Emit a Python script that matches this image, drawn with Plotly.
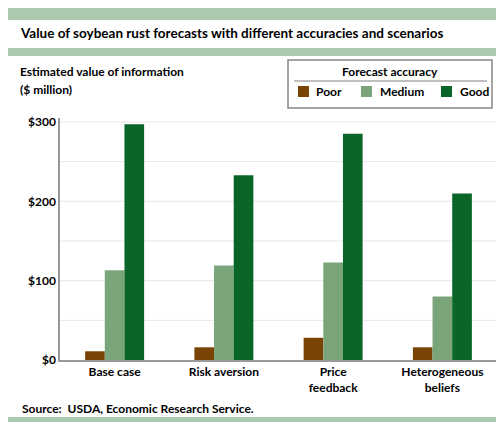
import plotly.graph_objects as go

scenarios = ["Base case", "Risk aversion", "Price<br>feedback", "Heterogeneous<br>beliefs"]
poor = [11, 16, 28, 16]
medium = [113, 119, 123, 80]
good = [297, 233, 285, 210]
y_ticks = [0, 100, 200, 300]
y_labels = ["$0", "$100", "$200", "$300"]

colors = {"Poor": "#7a4306", "Medium": "#7aa57b", "Good": "#0a6628"}
band = "#adc9b0"
font = "Lato"

fig = go.Figure()
for name, vals in [("Poor", poor), ("Medium", medium), ("Good", good)]:
    fig.add_trace(go.Bar(name=name, x=scenarios, y=vals,
                         marker_color=colors[name], marker_line_width=0))

fig.update_layout(
    width=504, height=422, barmode="group", bargap=0.46, bargroupgap=0,
    plot_bgcolor="white", paper_bgcolor="white",
    margin=dict(l=52, r=15, t=110, b=70, autoexpand=False),
    font=dict(family=font, size=12, color="black"),
    showlegend=False,
)
fig.update_xaxes(tickfont=dict(size=12), showline=True, linecolor="#999", linewidth=1.5,
                 tickprefix="<b>", ticksuffix="</b>")
fig.update_yaxes(range=[0, 305], tickvals=y_ticks, ticktext=["<b>%s</b>" % t for t in y_labels],
                 showgrid=False, showline=True, linecolor="#999", linewidth=1.5, ticks="")
for v in [50, 100, 150, 200, 250, 300]:
    fig.add_shape(type="line", xref="paper", yref="y", x0=0, x1=1, y0=v, y1=v,
                  line=dict(color="#e6e6e6", width=1), layer="below")


def py(pix):
    # pixel y from top -> paper coords
    return (352 - pix) / 242


def px_(pix):
    return (pix - 52) / 437


for top, bot in [(0, 12), (40, 48), (409, 418)]:
    fig.add_shape(type="rect", xref="paper", yref="paper", x0=px_(0), x1=px_(504),
                  y0=py(bot), y1=py(top), fillcolor=band, line_width=0)

fig.add_annotation(text="<b>Value of soybean rust forecasts with different accuracies and scenarios</b>",
                   xref="paper", yref="paper", x=px_(10), y=py(25), xanchor="left", yanchor="middle",
                   showarrow=False, font=dict(size=13.5))
fig.add_annotation(text="<b>Estimated value of information</b>", xref="paper", yref="paper",
                   x=px_(10), y=py(64), xanchor="left", yanchor="middle", showarrow=False, font_size=12)
fig.add_annotation(text="<b>($ million)</b>", xref="paper", yref="paper",
                   x=px_(10), y=py(82), xanchor="left", yanchor="middle", showarrow=False, font_size=12)
fig.add_annotation(text="<b>Source:  USDA, Economic Research Service.</b>", xref="paper", yref="paper",
                   x=px_(12), y=py(400), xanchor="left", yanchor="middle", showarrow=False, font_size=12)

# legend box
fig.add_shape(type="rect", xref="paper", yref="paper", x0=px_(280), x1=px_(484),
              y0=py(100), y1=py(52), line=dict(color="#888", width=1.5), fillcolor="white")
fig.add_annotation(text="<b>Forecast accuracy</b>", xref="paper", yref="paper",
                   x=px_(382), y=py(64), xanchor="center", yanchor="middle", showarrow=False, font_size=12)
fig.add_shape(type="line", xref="paper", yref="paper", x0=px_(286), x1=px_(479),
              y0=py(73), y1=py(73), line=dict(color="#aaa", width=1.5))
for name, sx, tx in [("Poor", 290, 306), ("Medium", 353, 370), ("Good", 433, 450)]:
    fig.add_shape(type="rect", xref="paper", yref="paper", x0=px_(sx), x1=px_(sx + 11),
                  y0=py(89), y1=py(78), fillcolor=colors[name], line_width=0)
    fig.add_annotation(text="<b>%s</b>" % name, xref="paper", yref="paper",
                       x=px_(tx), y=py(84), xanchor="left", yanchor="middle", showarrow=False, font_size=12)

fig.write_html("out.html")
